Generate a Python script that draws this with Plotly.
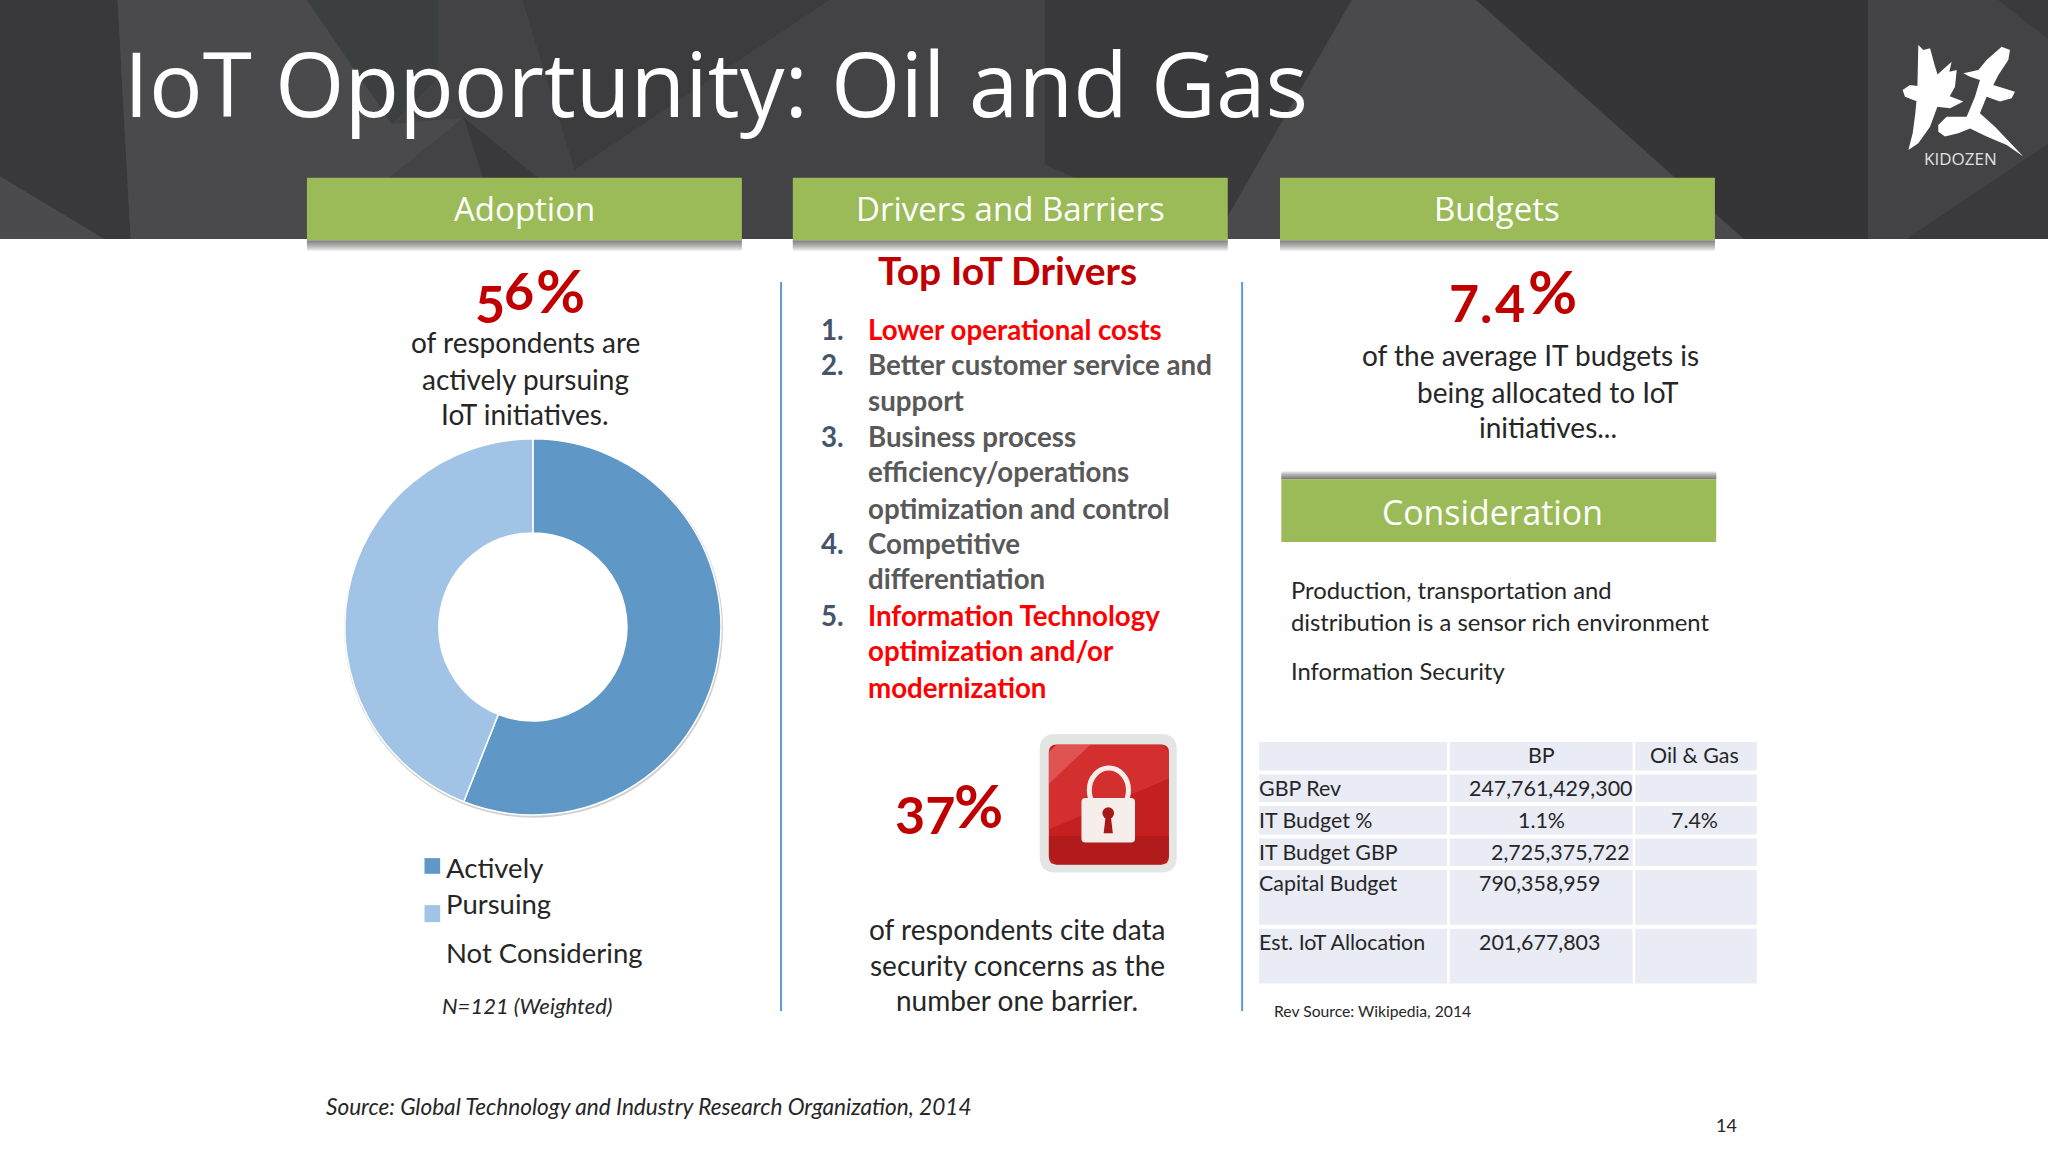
import plotly.graph_objects as go

# ---- data ----
title = "IoT Opportunity: Oil and Gas"
donut_labels = ["Actively Pursuing", "Not Considering"]
donut_values = [56, 44]
donut_colors = ["#5F98C6", "#A1C4E6"]
section_heads = ["Adoption", "Drivers and Barriers", "Budgets"]
adoption_lines = ["of respondents are", "actively pursuing", "IoT initiatives."]
driver_numbers = ["1.", "2.", "", "3.", "", "", "4.", "", "5.", "", ""]
driver_lines = ["Lower operational costs", "Better customer service and", "support",
                "Business process", "efficiency/operations", "optimization and control",
                "Competitive", "differentiation", "Information Technology",
                "optimization and/or", "modernization"]
driver_highlight = [True, False, False, False, False, False, False, False, True, True, True]
barrier_lines = ["of respondents cite data", "security concerns as the", "number one barrier."]
budget_lines = ["of the average IT budgets is", "being allocated to IoT", "initiatives..."]
consideration_lines = ["Production, transportation and",
                       "distribution is a sensor rich environment",
                       "Information Security"]
table_col0 = ["", "GBP Rev", "IT Budget %", "IT Budget GBP", "Capital Budget", "Est. IoT Allocation"]
table_col1 = ["BP", "247,761,429,300", "1.1%", "2,725,375,722", "790,358,959", "201,677,803"]
table_col2 = ["Oil & Gas", "", "7.4%", "", "", ""]

# ---- helpers (coordinates are on a 1568 x 882 canvas) ----
W, H = 1568, 882
shapes, annos = [], []
RED = "#C00000"
INK = "#262626"

def rect(x0, y0, x1, y1, fill, layer="above"):
    shapes.append(dict(type="rect", xref="x", yref="y", x0=x0, y0=y0, x1=x1, y1=y1,
                       fillcolor=fill, line=dict(width=0), layer=layer))

def poly(points, fill, layer="above"):
    d = "M " + " L ".join(f"{x:.1f},{y:.1f}" for x, y in points) + " Z"
    shapes.append(dict(type="path", xref="x", yref="y", path=d, fillcolor=fill,
                       line=dict(width=0), layer=layer))

def rrect(x0, y0, x1, y1, r, fill, layer="above"):
    d = (f"M {x0+r},{y0} L {x1-r},{y0} Q {x1},{y0} {x1},{y0+r} L {x1},{y1-r} Q {x1},{y1} {x1-r},{y1} "
         f"L {x0+r},{y1} Q {x0},{y1} {x0},{y1-r} L {x0},{y0+r} Q {x0},{y0} {x0+r},{y0} Z")
    shapes.append(dict(type="path", xref="x", yref="y", path=d, fillcolor=fill,
                       line=dict(width=0), layer=layer))

def circle(x0, y0, x1, y1, fill, layer="above", line=None):
    shapes.append(dict(type="circle", xref="x", yref="y", x0=x0, y0=y0, x1=x1, y1=y1,
                       fillcolor=fill, line=line or dict(width=0), layer=layer))

def txt(x, y, s, size, color=INK, anchor="center", font="Lato", bold=False, italic=False):
    if not s:
        return
    if bold:
        s = f"<b>{s}</b>"
    if italic:
        s = f"<i>{s}</i>"
    annos.append(dict(x=x, y=y, xref="x", yref="y", text=s, showarrow=False, xanchor=anchor,
                      yanchor="middle", borderpad=0, font=dict(family=font, size=size, color=color)))

# ---- header band ----
rect(0, 0, W, 183, "#434244", "below")
facets = [
    ("#39393B", [(0, 0), (90, 0), (100, 183), (30, 183), (0, 135)]),
    ("#3C3F3F", [(235, 0), (335, 0), (335, 60), (300, 95), (270, 60)]),
    ("#3C3B3D", [(460, 0), (635, 0), (440, 130), (400, 0)]),
    ("#4A494B", [(90, 0), (235, 0), (300, 95), (355, 90), (240, 183), (100, 183)]),
    ("#39383A", [(355, 90), (470, 183), (385, 183)]),
    ("#39383A", [(800, 0), (1035, 0), (930, 183), (800, 126)]),
    ("#353436", [(1130, 0), (1430, 0), (1430, 183), (1335, 183)]),
    ("#4A494B", [(1035, 0), (1130, 0), (1335, 183), (930, 183)]),
    ("#3A393B", [(1530, 0), (1568, 30), (1568, 0)]),
    ("#3A393B", [(1460, 183), (1568, 110), (1568, 183)]),
    ("#4B4A4C", [(0, 135), (80, 183), (0, 183)]),
]
for color, pts in facets:
    poly(pts, color, "below")

txt(94, 63, title, 89.3, "#FFFFFF", "left", "Open Sans")

# ---- logo, traced in a 3x crop whose origin is at (1880, 30) on the 2048 canvas ----
def logo(points):
    k = 1568 / 2048
    return [((1880 + px / 3) * k, (30 + py / 3) * k) for px, py in points]

logo_strokes = [
    [(115, 45), (130, 60), (150, 55), (165, 110), (178, 150), (172, 190), (174, 225), (150, 290),
     (115, 340), (85, 360), (98, 310), (106, 250), (110, 210), (112, 175)],
    [(68, 180), (90, 165), (130, 170), (200, 195), (250, 215), (210, 235), (150, 228), (100, 210), (75, 200)],
    [(165, 140), (215, 95), (208, 125), (230, 120), (225, 170), (195, 225), (165, 205)],
    [(250, 130), (295, 120), (320, 90), (365, 50), (390, 60), (385, 90), (355, 135), (340, 165),
     (405, 185), (395, 205), (360, 215), (320, 200), (300, 250), (345, 290), (430, 380), (380, 345),
     (320, 320), (270, 295), (235, 310), (195, 320), (175, 305), (175, 285), (200, 260), (260, 260),
     (285, 200), (300, 150), (270, 140)],
]
for stroke in logo_strokes:
    poly(logo(stroke), "#FFFFFF")
txt(1501, 121, "KIDOZEN", 17, "#E0E0E0", font="Open Sans")

# ---- section boxes ----
for (x0, x1), label in zip([(235, 568), (607, 940), (980, 1313)], section_heads):
    for grow in (8, 7, 6, 5, 4, 3, 2, 1):
        rect(x0, 184, x1, 184 + grow, "rgba(60,60,60,0.11)")
    rect(x0, 136, x1, 184, "#9BBB59")
    txt((x0 + x1) / 2, 160, label, 33, "#FFFFFF", font="Open Sans")

# ---- dividers ----
for x in (598, 951):
    shapes.append(dict(type="line", xref="x", yref="y", x0=x, x1=x, y0=216, y1=774,
                       line=dict(color="#5B9BD5", width=2)))

# ---- adoption column ----
txt(375, 232, "5", 52, RED, bold=True)
txt(397, 222, "6", 52, RED, bold=True)
txt(429, 222, "%", 60, RED, bold=True)
for y, s in zip((262, 290, 317), adoption_lines):
    txt(402, y, s, 28)

circle(263.5, 336, 553.5, 626, "rgba(120,120,120,0.35)", "below")
circle(336, 408, 480, 552, "#FFFFFF", "below")

rect(325, 657, 337, 669, donut_colors[0])
rect(325, 693, 337, 706, donut_colors[1])
txt(341, 664, "Actively", 27.5, anchor="left")
txt(341, 692, "Pursuing", 27.5, anchor="left")
txt(341, 729, "Not Considering", 27.5, anchor="left")
txt(338, 770, "N=121 (Weighted)", 22, italic=True, anchor="left")

# ---- drivers column ----
txt(771, 207, "Top IoT Drivers", 39, RED, bold=True)
for y, num, line, hot in zip((252, 279, 307, 334, 361, 389, 416, 443, 471, 498, 526),
                             driver_numbers, driver_lines, driver_highlight):
    txt(628, y, num, 27.7, "#44546A", "left", bold=True)
    txt(664, y, line, 27.7, "#FF0000" if hot else "#595959", "left", bold=True)

txt(708, 623, "37", 52, RED, bold=True)
txt(749, 616, "%", 60, RED, bold=True)

# lock icon
rrect(796, 562, 901, 668, 12, "#E4E6E4")
rrect(803, 570, 895, 662, 6, "#C42020")
poly([(809, 570), (890, 570), (895, 576), (895, 596), (803, 635), (803, 576)], "rgba(235,70,70,0.4)")
poly([(809, 570), (835, 570), (803, 600), (803, 576)], "rgba(255,170,170,0.3)")
poly([(803, 640), (895, 640), (895, 656), (889, 662), (809, 662), (803, 656)], "rgba(110,10,10,0.22)")
circle(834, 588, 864, 622, "rgba(0,0,0,0)", line=dict(color="#F6EEEA", width=5))
rrect(828, 611, 869, 645, 3, "#F6EEEA")
circle(844, 618, 853, 627, "#A81818")
poly([(846.5, 625), (850.5, 625), (852, 638), (845, 638)], "#A81818")

for y, s in zip((711, 739, 766), barrier_lines):
    txt(779, y, s, 28)

# ---- budgets column ----
txt(1121, 231, "7", 52, RED, bold=True)
txt(1138, 232, ".", 52, RED, bold=True)
txt(1156, 231, "4", 52, RED, bold=True)
txt(1189, 223, "%", 60, RED, bold=True)
for (x, y), s in zip([(1172, 272), (1185, 300), (1185, 327)], budget_lines):
    txt(x, y, s, 28)

for grow in (6, 5, 4, 3, 2, 1):
    rect(981, 367 - grow, 1314, 367, "rgba(40,40,40,0.14)")
rect(981, 367, 1314, 415, "#9BBB59")
txt(1143, 392, "Consideration", 33.8, "#FFFFFF", font="Open Sans")

for y, s in zip((452, 476, 514), consideration_lines):
    txt(988, y, s, 23.8, anchor="left")

# ---- table ----
col_edges = [(964, 1108), (1110, 1250), (1252, 1345)]
row_edges = [(568, 590), (593, 614), (617, 639), (642, 663), (666, 708), (711, 753)]
for x0, x1 in col_edges:
    for y0, y1 in row_edges:
        rect(x0, y0, x1, y1, "#E9EBF5")
row_text_y = (578, 603, 628, 652, 676, 721)
bp_x = (1180, 1187, 1180, 1195, 1179, 1179)
for y, a, b, c, bx in zip(row_text_y, table_col0, table_col1, table_col2, bp_x):
    txt(963.5, y, a, 21.4, anchor="left")
    txt(bx, y, b, 21.4)
    txt(1297, y, c, 21.4)

txt(975, 774, "Rev Source: Wikipedia, 2014", 15.7, anchor="left")
txt(248.5, 847, "Source: Global Technology and Industry Research Organization, 2014", 22.6, italic=True, anchor="left")
txt(1322, 861, "14", 18, anchor="center")

# ---- figure ----
k_x, k_y = 1 / W, 1 / H
fig = go.Figure()
fig.add_trace(go.Scatter(x=[0, W], y=[0, H], mode="markers", marker=dict(opacity=0),
                         hoverinfo="skip", showlegend=False))
fig.add_trace(go.Pie(labels=donut_labels, values=donut_values, hole=0.5, sort=False,
                     direction="clockwise", rotation=0, textinfo="none", showlegend=False,
                     marker=dict(colors=donut_colors, line=dict(color="#FFFFFF", width=1.5)),
                     domain=dict(x=[264 * k_x, 552 * k_x], y=[1 - 624 * k_y, 1 - 336 * k_y])))
fig.update_layout(
    width=2048, height=1152, autosize=False,
    margin=dict(l=0, r=0, t=0, b=0),
    paper_bgcolor="#FFFFFF", plot_bgcolor="#FFFFFF",
    xaxis=dict(visible=False, range=[0, W], fixedrange=True),
    yaxis=dict(visible=False, range=[H, 0], fixedrange=True),
    shapes=shapes, annotations=annos, showlegend=False,
)
fig.write_html("out.html", config=dict(displayModeBar=False),
               post_script="document.body.style.margin='0';document.body.style.overflow='hidden';")
